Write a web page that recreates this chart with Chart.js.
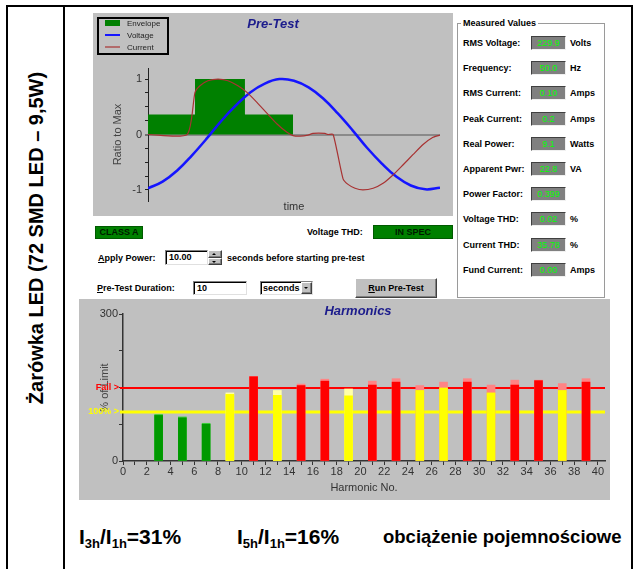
<!DOCTYPE html>
<html lang="pl">
<head>
<meta charset="utf-8">
<title>Żarówka LED (72 SMD LED – 9,5W)</title>
<script src="https://cdn.jsdelivr.net/npm/chart.js@4.4.1/dist/chart.umd.min.js"></script>
<style>
  html, body { margin: 0; padding: 0; background: #fff; }
  body { width: 635px; height: 569px; position: relative; overflow: hidden;
         font-family: "Liberation Sans", Arial, sans-serif; color: #000; }
  .abs { position: absolute; }
  .rule { position: absolute; background: #000; }
  canvas { position: absolute; background: #c0c0c0; }
  .lbl { position: absolute; font-size: 9px; font-weight: bold; white-space: nowrap; line-height: 12px; }
  .val { position: absolute; width: 33px; height: 12px; background: #808080;
         border: 1px solid; border-color: #404040 #f0f0f0 #f0f0f0 #404040;
         color: #00ff00; font-size: 9px; line-height: 12px; text-align: center; }
  .field { position: absolute; background: #fff; border: 1px solid; overflow: hidden; white-space: nowrap;
           border-color: #808080 #e0e0e0 #e0e0e0 #808080; box-shadow: inset 1px 1px 0 #000;
           font-size: 9px; font-weight: bold; line-height: 13px; padding-left: 3px; box-sizing: border-box; }
  .btn { position: absolute; background: #c0c0c0; border: 1px solid;
         border-color: #fff #404040 #404040 #fff; box-shadow: inset -1px -1px 0 #808080;
         box-sizing: border-box; font-size: 9px; font-weight: bold; text-align: center; }
  .tri-up, .tri-dn { position: absolute; width: 0; height: 0; border-left: 2px solid transparent; border-right: 2px solid transparent; }
  .tri-up { border-bottom: 2px solid #000; }
  .tri-dn { border-top: 2px solid #000; }
  .green { position: absolute; background: #008000; border: 1px solid #005a00; box-sizing: border-box;
           font-size: 9px; font-weight: bold; text-align: center; color: #001a00; }
  .sum { position: absolute; font-weight: bold; white-space: nowrap; }
  .sum sub { font-size: 13px; vertical-align: -4px; }
</style>
</head>
<body>

<!-- table frame -->
<div class="rule" style="left:6px; top:5px; width:627px; height:2px;"></div>
<div class="rule" style="left:6px; top:5px; width:2px; height:564px;"></div>
<div class="rule" style="left:63px; top:5px; width:2px; height:564px;"></div>
<div class="rule" style="left:631px; top:5px; width:2px; height:564px;"></div>

<div class="abs" style="left:36px; top:238px; transform:translate(-50%,-50%) rotate(-90deg); font-size:20px; font-weight:bold; white-space:nowrap;">Żarówka LED (72 SMD LED – 9,5W)</div>

<canvas id="pretest" width="360" height="203" style="left:93px; top:13px;"></canvas>
<canvas id="harmonics" width="531" height="201" style="left:79px; top:299px;"></canvas>

<!-- measured values group -->
<div class="abs" style="left:457px; top:23px; width:146px; height:273px; border:1px solid #9a9a9a; box-shadow: inset 1px 1px 0 #fff, 1px 1px 0 #fff;"></div>
<div class="lbl" style="left:461px; top:17px; background:#fff; padding:0 2px;">Measured Values</div>
<div id="measured"></div>

<!-- pre-test controls -->
<div class="green" style="left:95px; top:226px; width:48px; height:13px; line-height:11px;">CLASS A</div>
<div class="lbl" style="left:307px; top:226px;">Voltage THD:</div>
<div class="green" style="left:373px; top:225px; width:80px; height:14px; line-height:12px;">IN SPEC</div>

<div class="lbl" style="left:98px; top:252px;"><u>A</u>pply Power:</div>
<div class="field" style="left:165px; top:250px; width:43px; height:15px;">10.00</div>
<div class="btn" style="left:208px; top:250px; width:14px; height:8px;"><span class="tri-up" style="left:3px; top:2px;"></span></div>
<div class="btn" style="left:208px; top:258px; width:14px; height:7px;"><span class="tri-dn" style="left:3px; top:2px;"></span></div>
<div class="lbl" style="left:227px; top:252px;">seconds before starting pre-test</div>

<div class="lbl" style="left:97px; top:282px;"><u>P</u>re-Test Duration:</div>
<div class="field" style="left:193px; top:281px; width:54px; height:14px;">10</div>
<div class="field" style="left:260px; top:281px; width:53px; height:14px; padding-left:2px;">seconds</div>
<div class="btn" style="left:301px; top:282px; width:11px; height:12px;"><span class="tri-dn" style="left:2px; top:4px;"></span></div>
<div class="btn" style="left:355px; top:278px; width:82px; height:20px; line-height:18px;"><u>R</u>un Pre-Test</div>

<!-- summary row -->
<div class="sum" style="left:79px; top:524px; font-size:21px; line-height:26px;">I<sub>3h</sub>/I<sub>1h</sub>=31%</div>
<div class="sum" style="left:237px; top:524px; font-size:21px; line-height:26px;">I<sub>5h</sub>/I<sub>1h</sub>=16%</div>
<div class="sum" style="left:383px; top:526px; font-size:18.5px; line-height:22px;">obciążenie pojemnościowe</div>

<script>
// ---- Pre-test waveforms (time in % of the capture window, ratio to max) ----
const voltageTime  = [0, 5, 10, 15, 20, 25, 30, 35, 40, 45, 50, 55, 60, 65, 70, 75, 80, 85, 90, 95, 100];
const voltageRatio = [-0.97, -0.85, -0.65, -0.38, -0.08, 0.24, 0.52, 0.76, 0.92, 1.0, 0.97, 0.85, 0.65, 0.38, 0.08, -0.24, -0.52, -0.76, -0.92, -0.99, -0.96];

const currentTime  = [0, 13.4, 16.1, 17.8, 20.5, 24, 27.4, 30.8, 33.9, 37.3, 40.8, 44.2, 47.6, 49.7, 52.1, 54.8, 56.5, 60.6, 61.6, 63.4,
                      66.8, 68.5, 70.9, 73.6, 77.1, 80.5, 83.9, 87.3, 90.8, 94.2, 97.6, 100];
const currentRatio = [0, 0, 0.76, 0.88, 0.97, 1.0, 0.97, 0.88, 0.76, 0.58, 0.38, 0.19, 0.04, -0.02, -0.03, -0.01, 0.02, 0.02, 0, 0,
                      -0.80, -0.90, -0.97, -1.0, -0.97, -0.88, -0.73, -0.55, -0.36, -0.18, -0.05, -0.01];

// envelope: level i holds from edge i to edge i+1
const envelopeEdges  = [0, 16.1, 33.2, 49.7];
const envelopeLevels = [0.36, 1.0, 0.36];

// ---- Harmonic currents, % of class A limit ----
const harmonicNo     = [3, 5, 7, 9, 11, 13, 15, 17, 19, 21, 23, 25, 27, 29, 31, 33, 35, 37, 39];
const harmonicPct    = [93, 88, 75, 136, 172, 134, 154, 163, 133, 155, 161, 144, 149, 161, 139, 155, 164, 144, 161];
const harmonicMaxPct = [95, 90, 77, 139, 173, 144, 157, 167, 147, 163, 168, 154, 161, 168, 155, 165, 165, 158, 168];
const limitPct = 100;
const failPct  = 150;

// ---- Measured values panel ----
const measuredLabels = ['RMS Voltage:', 'Frequency:', 'RMS Current:', 'Peak Current:', 'Real Power:',
                        'Apparent Pwr:', 'Power Factor:', 'Voltage THD:', 'Current THD:', 'Fund Current:'];
const measuredValues = ['229.9', '50.0', '0.10', '0.2', '9.1', '22.8', '0.399', '0.02', '35.78', '0.00'];
const measuredUnits  = ['Volts', 'Hz', 'Amps', 'Amps', 'Watts', 'VA', '', '%', '%', 'Amps'];

const panel = document.getElementById('measured');
measuredLabels.forEach((label, i) => {
  const cy = 43 + i * 25.2;
  panel.insertAdjacentHTML('beforeend',
    `<div class="lbl" style="left:463px; top:${cy - 6}px;">${label}</div>` +
    `<div class="val" style="left:531px; top:${cy - 7}px;">${measuredValues[i]}</div>` +
    (measuredUnits[i] ? `<div class="lbl" style="left:570px; top:${cy - 6}px;">${measuredUnits[i]}</div>` : ''));
});

Chart.defaults.font.family = '"Liberation Sans", Arial, sans-serif';
Chart.defaults.color = '#333';

const BLUE_TITLE = '#1c1c8c';

// square-cornered outline of the envelope
const envelopePoints = [];
envelopeLevels.forEach((v, i) => {
  envelopePoints.push({ x: envelopeEdges[i], y: v }, { x: envelopeEdges[i + 1], y: v });
});
envelopePoints.push({ x: envelopeEdges[envelopeEdges.length - 1], y: 0 });

// Title + framed legend painted inside the pre-test plot
const preTestDecor = {
  id: 'preTestDecor',
  afterDraw(chart) {
    const c = chart.ctx;
    c.save();
    c.fillStyle = BLUE_TITLE;
    c.font = 'italic bold 13px "Liberation Sans", Arial, sans-serif';
    c.textAlign = 'center';
    c.textBaseline = 'middle';
    c.fillText('Pre-Test', 180, 11);

    // legend frame
    c.strokeStyle = '#000';
    c.lineWidth = 2;
    c.strokeRect(5, 5, 70, 36);
    c.font = '8px "Liberation Sans", Arial, sans-serif';
    c.textAlign = 'left';
    chart.data.datasets.forEach((ds, i) => {
      const y = 10 + i * 12;
      if (ds.fill) {
        c.fillStyle = ds.backgroundColor;
        c.fillRect(12, y - 3, 15, 6);
      } else {
        c.strokeStyle = ds.borderColor;
        c.lineWidth = Math.min(ds.borderWidth, 2);
        c.beginPath(); c.moveTo(12, y); c.lineTo(27, y); c.stroke();
      }
      c.fillStyle = '#222';
      c.fillText(ds.label, 34, y + 0.5);
    });
    c.restore();
  }
};

new Chart(document.getElementById('pretest'), {
  type: 'line',
  data: {
    datasets: [
      { label: 'Envelope', data: envelopePoints,
        fill: 'origin', backgroundColor: '#008000', borderColor: '#008000',
        borderWidth: 0, tension: 0, pointRadius: 0, order: 3 },
      { label: 'Voltage', data: voltageTime.map((t, i) => ({ x: t, y: voltageRatio[i] })),
        borderColor: '#1515ff', borderWidth: 2.5, tension: 0.4, pointRadius: 0, fill: false, order: 2 },
      { label: 'Current', data: currentTime.map((t, i) => ({ x: t, y: currentRatio[i] })),
        borderColor: '#a83232', borderWidth: 1.2, tension: 0.2, pointRadius: 0, fill: false, order: 1 }
    ]
  },
  options: {
    responsive: false, animation: false, devicePixelRatio: 1,
    layout: { padding: { top: 55, right: 13, left: 0, bottom: 0 } },
    plugins: { legend: { display: false }, tooltip: { enabled: false } },
    scales: {
      x: {
        type: 'linear', min: 0, max: 100,
        border: { display: false }, grid: { display: false }, ticks: { display: false },
        title: { display: true, text: 'time', color: '#333', font: { size: 11 }, padding: { top: 0, bottom: 2 } },
        afterFit(s) { s.height = 15; }
      },
      y: {
        min: -1.2, max: 1.2,
        border: { color: '#222', width: 1 },
        grid: {
          color: c => (c.tick && c.tick.value === 0) ? '#8a8a8a' : 'transparent',
          lineWidth: c => (c.tick && c.tick.value === 0) ? 2 : 1,
          tickColor: '#222', tickLength: 3, tickWidth: 1
        },
        ticks: { stepSize: 0.25, includeBounds: false, autoSkip: false,
                 callback: v => Number.isInteger(v) ? String(v) : '',
                 color: '#333', font: { size: 11 }, padding: 3 },
        title: { display: true, text: 'Ratio to Max', color: '#444', font: { size: 11 }, padding: { top: 18 } },
        afterFit(s) { s.width = 55; }
      }
    }
  },
  plugins: [preTestDecor]
});

// Limit lines and their tags, drawn under the bars
const harmonicDecor = {
  id: 'harmonicDecor',
  beforeDatasetsDraw(chart) {
    const c = chart.ctx, a = chart.chartArea, y = chart.scales.y;
    c.save();
    [[failPct, '#ff0000', 2, 'Fail >'], [limitPct, '#ffff00', 3, '100% >']].forEach(([v, col, w, tag]) => {
      const py = Math.round(y.getPixelForValue(v));
      c.strokeStyle = col; c.lineWidth = w;
      c.beginPath(); c.moveTo(a.left - 3, py); c.lineTo(a.right, py); c.stroke();
      c.fillStyle = col;
      c.font = 'bold 9px "Liberation Sans", Arial, sans-serif';
      c.textAlign = 'right'; c.textBaseline = 'middle';
      c.fillText(tag, a.left - 4, py);
    });
    c.restore();
  },
  afterDraw(chart) {
    const c = chart.ctx;
    c.save();
    c.fillStyle = BLUE_TITLE;
    c.font = 'italic bold 13px "Liberation Sans", Arial, sans-serif';
    c.textAlign = 'center'; c.textBaseline = 'middle';
    c.fillText('Harmonics', 279, 12);
    c.restore();
  }
};

const zoneColor = v => v > failPct ? '#ff0000' : v > limitPct ? '#ffff00' : '#009900';
const zoneTint  = v => v > failPct ? '#ff8484' : v > limitPct ? '#ffffa8' : '#3fcf3f';

new Chart(document.getElementById('harmonics'), {
  type: 'bar',
  data: {
    datasets: [
      { label: 'Present', data: harmonicNo.map((h, i) => ({ x: h, y: harmonicPct[i] })),
        backgroundColor: harmonicPct.map(zoneColor), grouped: false, barThickness: 8, order: 1 },
      { label: 'Maximum', data: harmonicNo.map((h, i) => ({ x: h, y: harmonicMaxPct[i] })),
        backgroundColor: harmonicMaxPct.map(zoneTint), grouped: false, barThickness: 8, order: 2 }
    ]
  },
  options: {
    responsive: false, animation: false, devicePixelRatio: 1,
    layout: { padding: { top: 15, right: 5, left: 0, bottom: 0 } },
    plugins: { legend: { display: false }, tooltip: { enabled: false } },
    scales: {
      x: {
        type: 'linear', min: 0, max: 40.6, offset: false,
        border: { color: '#333', width: 1.5 },
        grid: { drawOnChartArea: false, offset: false, color: '#333', tickLength: 4 },
        ticks: { stepSize: 1, includeBounds: false, autoSkip: false, maxRotation: 0,
                 callback: v => v % 2 === 0 ? String(v) : '', color: '#333', font: { size: 11 }, padding: 0 },
        title: { display: true, text: 'Harmonic No.', color: '#333', font: { size: 11 }, padding: { top: 0, bottom: 5 } },
        afterFit(s) { s.height = 39; }
      },
      y: {
        min: 0, max: 300,
        border: { color: '#333', width: 1.5 },
        grid: { drawOnChartArea: false, color: '#333', tickLength: 4 },
        ticks: { stepSize: 75, autoSkip: false, callback: v => (v === 0 || v === 300) ? String(v) : '',
                 color: '#333', font: { size: 11 }, padding: 1 },
        title: { display: true, text: '% of Limit', color: '#444', font: { size: 11 }, padding: { top: 19 } },
        afterFit(s) { s.width = 44; }
      }
    }
  },
  plugins: [harmonicDecor]
});
</script>
</body>
</html>
